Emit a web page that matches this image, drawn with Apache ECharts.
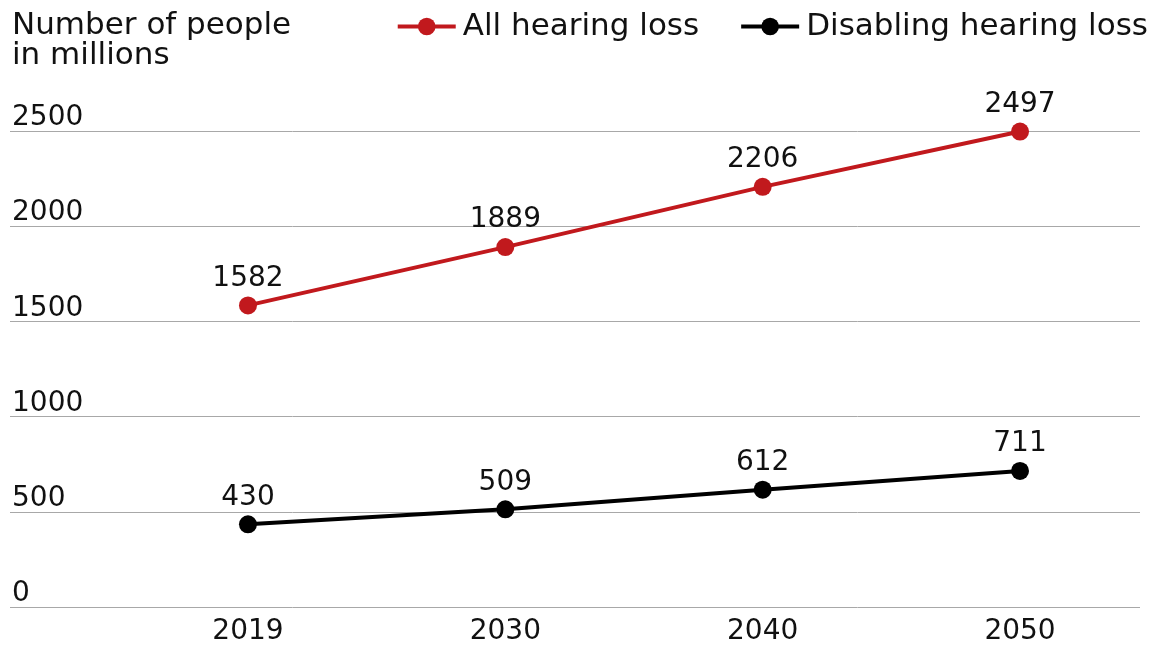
<!DOCTYPE html>
<html>
<head>
<meta charset="utf-8">
<script src="https://cdn.jsdelivr.net/npm/echarts@6/dist/echarts.min.js"></script>
<style>html,body{margin:0;padding:0;background:#fff;}#c{width:1171px;height:646px;}</style>
</head>
<body>
<div id="c"></div>
<script>
const years = ['2019', '2030', '2040', '2050'];
const allHearingLoss = [1582, 1889, 2206, 2497];
const disablingHearingLoss = [430, 509, 612, 711];
const yTicks = { min: 0, max: 2500, interval: 500 };
const FONT = 'DejaVu Sans';
const RED = '#c1191d';

const chart = echarts.init(document.getElementById('c'), null, { renderer: 'canvas' });
chart.setOption({
  backgroundColor: '#fff',
  animation: false,
  textStyle: { fontFamily: FONT, color: '#111' },
  title: {
    text: 'Number of people\nin millions',
    left: 7, top: 6,
    textStyle: { fontFamily: FONT, fontSize: 31, fontWeight: 'normal', color: '#111', lineHeight: 30 }
  },
  legend: {
    right: 18, top: 6,
    itemWidth: 58, itemHeight: 22, itemGap: 40,
    lineStyle: { width: 4 },
    textStyle: { fontFamily: FONT, fontSize: 31, color: '#111', padding: [0, 0, 0, 2] },
    data: ['All hearing loss', 'Disabling hearing loss']
  },
  grid: [
    { left: 10, right: 31, top: 131, bottom: 39 },
    { left: 119.3, right: 22.3, top: 131, bottom: 39 }
  ],
  xAxis: [
    { gridIndex: 0, type: 'value', show: false, min: 0, max: 1 },
    {
      gridIndex: 1, type: 'category', data: years, boundaryGap: true,
      axisLine: { show: false }, axisTick: { show: false }, splitLine: { show: false },
      axisLabel: { fontFamily: FONT, fontSize: 28, color: '#111', margin: 12 }
    }
  ],
  yAxis: [
    {
      gridIndex: 0, type: 'value', min: yTicks.min, max: yTicks.max, interval: yTicks.interval,
      axisLine: { show: false }, axisTick: { show: false },
      splitLine: { show: true, lineStyle: { color: '#a8a8a8', width: 1 } },
      axisLabel: {
        inside: true, margin: 2, verticalAlign: 'bottom', fontFamily: FONT, fontSize: 28, color: '#111',
        padding: [0, 0, -1, 0],
        formatter: function (v) { return String(v); }
      }
    },
    {
      gridIndex: 1, type: 'value', min: yTicks.min, max: yTicks.max, interval: yTicks.interval,
      show: false, splitLine: { show: false }
    }
  ],
  series: [
    {
      name: 'All hearing loss', type: 'line', xAxisIndex: 1, yAxisIndex: 1,
      data: allHearingLoss, symbol: 'circle', symbolSize: 18,
      lineStyle: { color: RED, width: 4 }, itemStyle: { color: RED },
      label: { show: true, position: 'top', distance: 4, fontFamily: FONT, fontSize: 28, color: '#111' }
    },
    {
      name: 'Disabling hearing loss', type: 'line', xAxisIndex: 1, yAxisIndex: 1,
      data: disablingHearingLoss, symbol: 'circle', symbolSize: 18,
      lineStyle: { color: '#000', width: 4 }, itemStyle: { color: '#000' },
      label: { show: true, position: 'top', distance: 4, fontFamily: FONT, fontSize: 28, color: '#111' }
    }
  ]
});
</script>
</body>
</html>
